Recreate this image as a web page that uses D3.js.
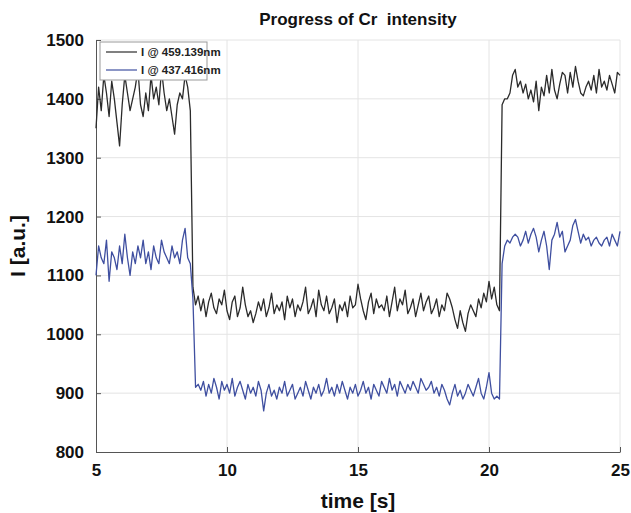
<!DOCTYPE html>
<html>
<head>
<meta charset="utf-8">
<script src="https://cdn.jsdelivr.net/npm/d3@7"></script>
<style>
  body { margin: 0; background: #fff; }
  text { font-family: "Liberation Sans", Arial, sans-serif; font-weight: bold; white-space: pre; }
</style>
</head>
<body>
<div id="chart"></div>
<script>
// time axis: 5.0 .. 25.0 s, 0.1 s step
const tStart = 5, tStep = 0.1;
const seriesNames = ["I @ 459.139nm", "I @ 437.416nm"];
const seriesColors = ["#2b2b2b", "#3f4fa0"];
const xTicks = [5, 10, 15, 20, 25];
const yTicks = [800, 900, 1000, 1100, 1200, 1300, 1400, 1500];

const black = [
  1350,1420,1380,1440,1410,1370,1430,1400,1360,1320,
  1390,1440,1410,1380,1400,1420,1450,1390,1370,1410,
  1380,1440,1400,1420,1390,1450,1410,1380,1400,1370,
  1340,1390,1410,1400,1440,1420,1380,1080,1050,1065,
  1040,1060,1030,1055,1070,1045,1035,1060,1050,1075,
  1040,1025,1055,1065,1030,1045,1080,1050,1030,1040,
  1020,1035,1055,1040,1060,1030,1045,1070,1035,1050,
  1040,1055,1025,1065,1045,1060,1030,1050,1040,1055,
  1080,1035,1045,1060,1030,1075,1050,1040,1065,1035,
  1045,1060,1020,1050,1040,1055,1030,1065,1045,1050,
  1085,1060,1040,1025,1055,1070,1035,1060,1045,1050,
  1040,1065,1030,1055,1080,1040,1060,1050,1075,1035,
  1045,1060,1030,1050,1070,1040,1055,1065,1035,1045,
  1060,1030,1050,1040,1070,1060,1045,1025,1010,1040,
  1020,1005,1035,1050,1040,1030,1060,1045,1070,1055,
  1090,1060,1080,1050,1040,1390,1400,1400,1410,1440,
  1450,1420,1430,1410,1425,1400,1415,1395,1430,1380,
  1420,1405,1440,1410,1450,1415,1400,1425,1445,1440,
  1410,1445,1420,1455,1430,1410,1405,1420,1430,1415,
  1440,1410,1450,1420,1430,1415,1440,1425,1410,1445,1440
];

const blue = [
  1100,1150,1130,1120,1160,1090,1140,1130,1110,1150,
  1120,1170,1130,1100,1140,1120,1150,1130,1160,1120,
  1140,1110,1150,1130,1120,1160,1140,1130,1120,1150,
  1130,1140,1120,1160,1180,1130,1120,1060,910,915,
  905,920,895,915,900,925,910,890,920,905,
  915,900,925,895,910,920,905,890,915,900,
  910,895,920,905,870,900,915,895,905,890,
  910,900,920,895,905,915,890,900,910,895,
  920,905,890,910,900,915,895,905,925,900,
  910,895,915,900,920,905,890,910,900,915,
  895,905,920,900,910,890,915,905,895,920,
  910,900,925,905,915,895,920,910,900,915,
  905,920,910,900,925,915,905,910,920,900,
  910,895,915,905,890,880,900,915,895,905,
  890,900,915,905,895,910,925,900,890,910,
  935,900,890,895,890,1120,1150,1160,1155,1165,
  1170,1165,1150,1160,1175,1155,1170,1180,1165,1140,
  1160,1175,1150,1110,1160,1170,1190,1165,1175,1140,
  1150,1160,1185,1195,1175,1155,1170,1160,1165,1150,
  1160,1165,1155,1150,1160,1165,1150,1170,1160,1150,1175
];

const MARGIN = { left: 96, right: 11, top: 40, bottom: 61 };
const SIZE = { width: 631, height: 513 };

const svg = d3.select("#chart").append("svg")
  .attr("width", SIZE.width)
  .attr("height", SIZE.height);

const x = d3.scaleLinear().domain([5, 25]).range([MARGIN.left, SIZE.width - MARGIN.right]);
const y = d3.scaleLinear().domain([800, 1500]).range([SIZE.height - MARGIN.bottom, MARGIN.top]);

// grid
svg.append("g").selectAll("line.h").data(yTicks.slice(1)).join("line")
  .attr("x1", x(5)).attr("x2", x(25))
  .attr("y1", d => y(d)).attr("y2", d => y(d))
  .attr("stroke", "#e4e4e4").attr("stroke-width", 1);
svg.append("g").selectAll("line.v").data(xTicks.slice(1)).join("line")
  .attr("x1", d => x(d)).attr("x2", d => x(d))
  .attr("y1", y(800)).attr("y2", y(1500))
  .attr("stroke", "#e4e4e4").attr("stroke-width", 1);

// axes, ticks pointing inward
const xAxis = svg.append("g")
  .attr("transform", `translate(0,${y(800)})`)
  .call(d3.axisBottom(x).tickValues(xTicks).tickFormat(d3.format("d"))
    .tickSizeInner(-5).tickSizeOuter(0).tickPadding(12));
const yAxis = svg.append("g")
  .attr("transform", `translate(${x(5)},0)`)
  .call(d3.axisLeft(y).tickValues(yTicks).tickFormat(d3.format("d"))
    .tickSizeInner(-5).tickSizeOuter(0).tickPadding(12));
[xAxis, yAxis].forEach(g => {
  g.select(".domain").attr("stroke", "#555");
  g.selectAll(".tick line").attr("stroke", "#555");
  g.selectAll(".tick text").attr("fill", "#111").style("font-size", "17px");
});

// lines
const line = d3.line().x((d, i) => x(tStart + i * tStep)).y(d => y(d));
[black, blue].forEach((s, k) => {
  svg.append("path").datum(s)
    .attr("fill", "none")
    .attr("stroke", seriesColors[k])
    .attr("stroke-width", 1.3)
    .attr("stroke-linejoin", "round")
    .attr("d", line);
});

// legend
const leg = svg.append("g").attr("transform", "translate(100,42)");
leg.append("rect").attr("width", 107).attr("height", 38)
  .attr("fill", "#fff").attr("stroke", "#999");
seriesNames.forEach((n, k) => {
  const yy = 10 + k * 18;
  leg.append("line").attr("x1", 6).attr("x2", 37).attr("y1", yy).attr("y2", yy)
    .attr("stroke", seriesColors[k]).attr("stroke-width", 1.2);
  leg.append("text").attr("x", 41).attr("y", yy + 4)
    .style("font-size", "11.5px").attr("fill", "#222").text(n);
});

// titles
svg.append("text").attr("x", (x(5) + x(25)) / 2).attr("y", 25)
  .attr("text-anchor", "middle").style("font-size", "17px").attr("fill", "#111")
  .text("Progress of Cr  intensity");
svg.append("text").attr("x", (x(5) + x(25)) / 2).attr("y", 508)
  .attr("text-anchor", "middle").style("font-size", "21px").attr("fill", "#111")
  .text("time [s]");
svg.append("text")
  .attr("transform", `translate(25,${(y(800) + y(1500)) / 2}) rotate(-90)`)
  .attr("text-anchor", "middle").style("font-size", "21px").attr("fill", "#111")
  .text("I [a.u.]");
</script>
</body>
</html>
